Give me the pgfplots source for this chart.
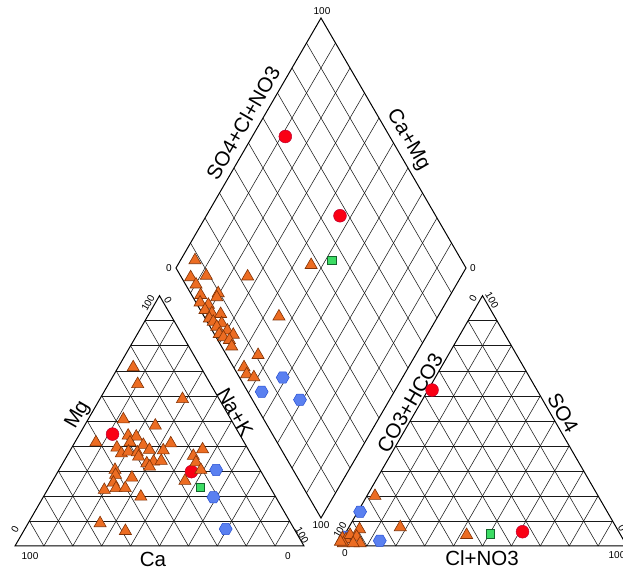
\documentclass[border=0pt]{standalone}
\usepackage{pgfplots}
\pgfplotsset{compat=1.18}
\usepackage{pgfplotstable}
\usepackage{fontspec}
\setmainfont{Liberation Sans}

\definecolor{orfill}{RGB}{236,108,34}
\definecolor{ordraw}{RGB}{130,50,5}
\definecolor{rdfill}{RGB}{250,0,20}
\definecolor{rddraw}{RGB}{190,0,50}
\definecolor{blfill}{RGB}{90,128,240}
\definecolor{bldraw}{RGB}{40,80,210}
\definecolor{grfill}{RGB}{60,220,100}
\definecolor{grdraw}{RGB}{20,100,45}

\pgfdeclareplotmark{hexagon}{%
  \pgfpathmoveto{\pgfpointpolar{0}{\pgfplotmarksize}}%
  \pgfpathlineto{\pgfpointpolar{60}{\pgfplotmarksize}}%
  \pgfpathlineto{\pgfpointpolar{120}{\pgfplotmarksize}}%
  \pgfpathlineto{\pgfpointpolar{180}{\pgfplotmarksize}}%
  \pgfpathlineto{\pgfpointpolar{240}{\pgfplotmarksize}}%
  \pgfpathlineto{\pgfpointpolar{300}{\pgfplotmarksize}}%
  \pgfpathclose
  \pgfusepathqfillstroke
}

\tikzset{
  gridl/.style={black!90, line width=0.55pt},
  edgel/.style={black, line width=1pt},
  trim/.style={only marks, mark=triangle*, mark size=7pt,
    mark options={fill=orfill, draw=ordraw, line width=0.6pt}},
  redm/.style={only marks, mark=*, mark size=6.4pt,
    mark options={fill=rdfill, draw=rddraw, line width=0.5pt}},
  grnm/.style={only marks, mark=square*, mark size=4.2pt,
    mark options={fill=grfill, draw=grdraw, line width=0.6pt}},
  blum/.style={only marks, mark=hexagon, mark size=6.5pt,
    mark options={fill=blfill, draw=bldraw, line width=0.5pt}},
  ttl/.style={font=\fontsize{20.5}{20.5}\selectfont},
}

% cation triangle: Mg %, Na+K %
\pgfplotstableread{
mg nak
71.4 5.2
64.7 10.1
58.7 28.6
50.6 12.2
48.1 24.5
41.4 7.3
44.1 17.1
43.7 20.1
41.4 19.1
39.3 15.6
40.4 24.2
38.4 27.3
41.0 33.4
38.2 32.2
37.0 18.3
37.7 20.4
37.4 23.6
35.7 24.9
33.0 29.1
33.7 31.1
34.0 33.6
31.7 30.7
38.6 45.6
36.0 43.7
33.4 45.9
30.4 49.1
30.4 19.4
28.4 20.6
27.3 26.8
25.3 21.4
22.4 19.7
23.1 23.4
23.1 26.6
19.7 33.7
26.0 45.8
9.1 24.9
6.0 35.2
}\catTri
\pgfplotstableread{
mg nak
44.7 11.4
29.7 46.2
}\catRed
\pgfplotstableread{
mg nak
23.5 52.3
}\catGreen
\pgfplotstableread{
mg nak
30.4 54.4
19.5 58.9
6.8 69.5
}\catBlue

% anion triangle: SO4 %, Cl+NO3 %
\pgfplotstableread{
so4 cl
20.0 2.8
7.5 17.8
4.4 42.3
6.7 4.1
3.1 0.0
2.7 1.4
4.4 2.0
3.7 4.6
1.1 7.1
1.1 1.3
1.7 0.0
1.1 4.7
}\anTri
\pgfplotstableread{
so4 cl
62.3 1.4
5.7 61.0
}\anRed
\pgfplotstableread{
so4 cl
4.8 50.2
}\anGreen
\pgfplotstableread{
so4 cl
13.7 0.8
2.1 13.4
3.7 0.9
}\anBlue

% diamond: SO4+Cl+NO3 %, Ca+Mg %
\pgfplotstableread{
an cat
47.2 54.0
23.0 73.6
8.1 95.0
3.2 93.1
8.9 88.0
3.6 89.8
3.1 86.1
9.5 80.4
8.2 80.1
1.4 84.8
3.8 81.5
1.6 81.6
3.3 78.6
6.2 75.4
1.4 78.4
2.1 76.4
4.7 73.2
2.3 74.2
5.2 69.8
1.7 71.9
6.4 66.9
2.5 69.8
4.0 67.2
3.5 65.1
25.8 54.8
10.9 54.3
3.6 56.7
3.1 54.4
5.0 51.3
}\diaTri
\pgfplotstableread{
an cat
64.0 88.6
67.0 53.9
}\diaRed
\pgfplotstableread{
an cat
55.2 47.8
}\diaGreen
\pgfplotstableread{
an cat
14.9 41.3
4.8 45.7
16.4 30.9
}\diaBlue

\begin{document}
\begin{tikzpicture}
\begin{axis}[
  scale only axis, width=623pt, height=572pt,
  xmin=0, xmax=623, ymin=0, ymax=572,
  hide axis, clip=false,
]
% grids
\pgfplotsinvokeforeach{1,...,9}{
  % cation triangle
  \draw[gridl] ({15+14.45*#1},{26+25.03*#1}) -- ({304-14.45*#1},{26+25.03*#1});
  \draw[gridl] ({15+28.9*#1},26) -- ({304-14.45*(10-#1)},{26+25.03*(10-#1)});
  \draw[gridl] ({15+28.9*#1},26) -- ({15+14.45*#1},{26+25.03*#1});
  % anion triangle
  \draw[gridl] ({338+14.45*#1},{26+25.03*#1}) -- ({627-14.45*#1},{26+25.03*#1});
  \draw[gridl] ({338+28.9*#1},26) -- ({627-14.45*(10-#1)},{26+25.03*(10-#1)});
  \draw[gridl] ({338+28.9*#1},26) -- ({338+14.45*#1},{26+25.03*#1});
  % diamond
  \draw[gridl] ({321-14.5*#1},{54+25*#1}) -- ({466-14.5*#1},{304+25*#1});
  \draw[gridl] ({321+14.5*#1},{54+25*#1}) -- ({176+14.5*#1},{304+25*#1});
}
\draw[edgel] (15,26) -- (304,26) -- (159.5,276.3) -- cycle;
\draw[edgel] (338,26) -- (627,26) -- (482.5,276.3) -- cycle;
\draw[edgel] (321,54) -- (466,304) -- (321,554) -- (176,304) -- cycle;

% data: cation triangle
\addplot[blum] table[x expr={15+2.89*(\thisrow{nak}+0.5*\thisrow{mg})}, y expr={26+2.503*\thisrow{mg}}] {\catBlue};
\addplot[redm] table[x expr={15+2.89*(\thisrow{nak}+0.5*\thisrow{mg})}, y expr={26+2.503*\thisrow{mg}}] {\catRed};
\addplot[grnm] table[x expr={15+2.89*(\thisrow{nak}+0.5*\thisrow{mg})}, y expr={26+2.503*\thisrow{mg}}] {\catGreen};
\addplot[trim] table[x expr={15+2.89*(\thisrow{nak}+0.5*\thisrow{mg})}, y expr={26+2.503*\thisrow{mg}}] {\catTri};
% anion triangle
\addplot[blum] table[x expr={338+2.89*(\thisrow{cl}+0.5*\thisrow{so4})}, y expr={26+2.503*\thisrow{so4}}] {\anBlue};
\addplot[redm] table[x expr={338+2.89*(\thisrow{cl}+0.5*\thisrow{so4})}, y expr={26+2.503*\thisrow{so4}}] {\anRed};
\addplot[grnm] table[x expr={338+2.89*(\thisrow{cl}+0.5*\thisrow{so4})}, y expr={26+2.503*\thisrow{so4}}] {\anGreen};
\addplot[trim] table[x expr={338+2.89*(\thisrow{cl}+0.5*\thisrow{so4})}, y expr={26+2.503*\thisrow{so4}}] {\anTri};
% diamond
\addplot[blum] table[x expr={321+1.45*(\thisrow{an}-\thisrow{cat})}, y expr={54+2.5*(\thisrow{an}+\thisrow{cat})}] {\diaBlue};
\addplot[redm] table[x expr={321+1.45*(\thisrow{an}-\thisrow{cat})}, y expr={54+2.5*(\thisrow{an}+\thisrow{cat})}] {\diaRed};
\addplot[grnm] table[x expr={321+1.45*(\thisrow{an}-\thisrow{cat})}, y expr={54+2.5*(\thisrow{an}+\thisrow{cat})}] {\diaGreen};
\addplot[trim] table[x expr={321+1.45*(\thisrow{an}-\thisrow{cat})}, y expr={54+2.5*(\thisrow{an}+\thisrow{cat})}] {\diaTri};

% titles
\node[ttl] at (153,13) {Ca};
\node[ttl, rotate=60] at (78,157) {Mg};
\node[ttl, rotate=-60] at (235,160) {Na+K};
\node[ttl] at (482,14) {Cl+NO3};
\node[ttl, rotate=60] at (410,169) {CO3+HCO3};
\node[ttl, rotate=-60] at (563,159) {SO4};
\node[ttl, rotate=60] at (243,449) {SO4+Cl+NO3};
\node[ttl, rotate=-60] at (408,432) {Ca+Mg};

% tick labels
\begin{scope}[every node/.style={font=\fontsize{10}{10}\selectfont}]
\node at (30,16) {100};
\node at (288,16) {0};
\node[rotate=60] at (15,43) {0};
\node[rotate=60] at (148,269) {100};
\node[rotate=-60] at (168,272) {0};
\node[rotate=-60] at (302,37) {100};
\node at (345,19) {0};
\node at (617,17) {100};
\node[rotate=60] at (340,42) {100};
\node[rotate=60] at (473,274) {0};
\node[rotate=-60] at (492,272) {100};
\node[rotate=-60] at (622,44) {0};
\node at (322,561) {100};
\node at (169,304) {0};
\node at (473,304) {0};
\node at (321,47) {100};
\end{scope}
\end{axis}
\pgfresetboundingbox
\path[use as bounding box] (current axis.south west) rectangle (current axis.north east);
\end{tikzpicture}
\end{document}
